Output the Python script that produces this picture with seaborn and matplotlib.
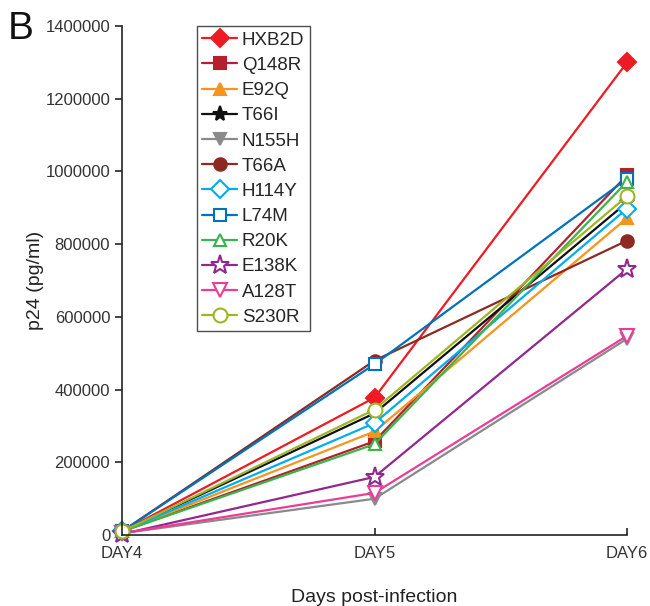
import matplotlib
matplotlib.use("Agg")
import matplotlib.pyplot as plt
import pandas as pd
import seaborn as sns

# Data (p24, pg/ml)
days = ["DAY4", "DAY5", "DAY6"]
HXB2D = [10000, 378000, 1300000]
Q148R = [10000, 258000, 990000]
E92Q = [10000, 285000, 872000]
T66I = [10000, 335000, 915000]
N155H = [5000, 100000, 540000]
T66A = [10000, 480000, 810000]
H114Y = [10000, 308000, 898000]
L74M = [10000, 470000, 980000]
R20K = [10000, 250000, 972000]
E138K = [3000, 160000, 732000]
A128T = [5000, 116000, 548000]
S230R = [10000, 345000, 932000]

names = ["HXB2D", "Q148R", "E92Q", "T66I", "N155H", "T66A",
         "H114Y", "L74M", "R20K", "E138K", "A128T", "S230R"]
series = [HXB2D, Q148R, E92Q, T66I, N155H, T66A,
          H114Y, L74M, R20K, E138K, A128T, S230R]
colors = ["#ED1C24", "#B5202E", "#F7941D", "#111111", "#8A8A8A", "#8C2A22",
          "#00AEEF", "#0072BC", "#39B54A", "#92278F", "#EC3D96", "#A0B526"]
markers = ["D", "s", "^", "*", "v", "o", "D", "s", "^", "*", "v", "o"]
filled = [True] * 6 + [False] * 6
msizes = [9, 9, 9, 11, 9, 9, 9, 9, 9, 14, 10, 10]

sns.set_style("ticks")
plt.rcParams["font.family"] = ["Liberation Sans", "DejaVu Sans"]

fig = plt.figure(figsize=(6.5, 6.06), dpi=100)
ax = fig.add_axes([0.1877, 0.117, 0.777, 0.84])

for name, vals, c, m, f, ms in zip(names, series, colors, markers, filled, msizes):
    df = pd.DataFrame({"day": [0, 1, 2], "p24": vals})
    sns.lineplot(data=df, x="day", y="p24", ax=ax, color=c, marker=m,
                 markersize=ms, markeredgecolor=c,
                 markerfacecolor=c if f else "white",
                 markeredgewidth=1.5, linewidth=1.6, label=name, clip_on=False)

ax.set_xlim(0, 2)
ax.set_ylim(0, 1400000)
ax.set_xticks([0, 1, 2])
ax.set_xticklabels(days)
ax.set_yticks(range(0, 1400001, 200000))
ax.set_yticklabels([str(v) for v in range(0, 1400001, 200000)])
ax.tick_params(axis="y", direction="out", length=5, width=1.2, labelsize=12)
ax.tick_params(axis="x", direction="in", length=5, width=1.2, labelsize=12, pad=8)
for side in ["top", "right"]:
    ax.spines[side].set_visible(False)
for side in ["left", "bottom"]:
    ax.spines[side].set_linewidth(1.2)
    ax.spines[side].set_color("#222222")
for lab in ax.get_xticklabels() + ax.get_yticklabels():
    lab.set_color("#333333")

ax.set_xlabel("Days post-infection", fontsize=14, labelpad=20, color="#222222")
ax.set_ylabel("p24 (pg/ml)", fontsize=14, labelpad=1, color="#222222")

leg = ax.legend(loc="upper left", bbox_to_anchor=(0.148, 1.0), borderaxespad=0,
                frameon=True, fancybox=False, fontsize=13.5, handlelength=1.85,
                labelspacing=0.43, handletextpad=0.25, borderpad=0.3)
leg.get_frame().set_edgecolor("#222222")
leg.get_frame().set_linewidth(1.0)

fig.text(0.012, 0.935, "B", fontsize=28, color="#111111")

fig.savefig("out.png", dpi=100)
